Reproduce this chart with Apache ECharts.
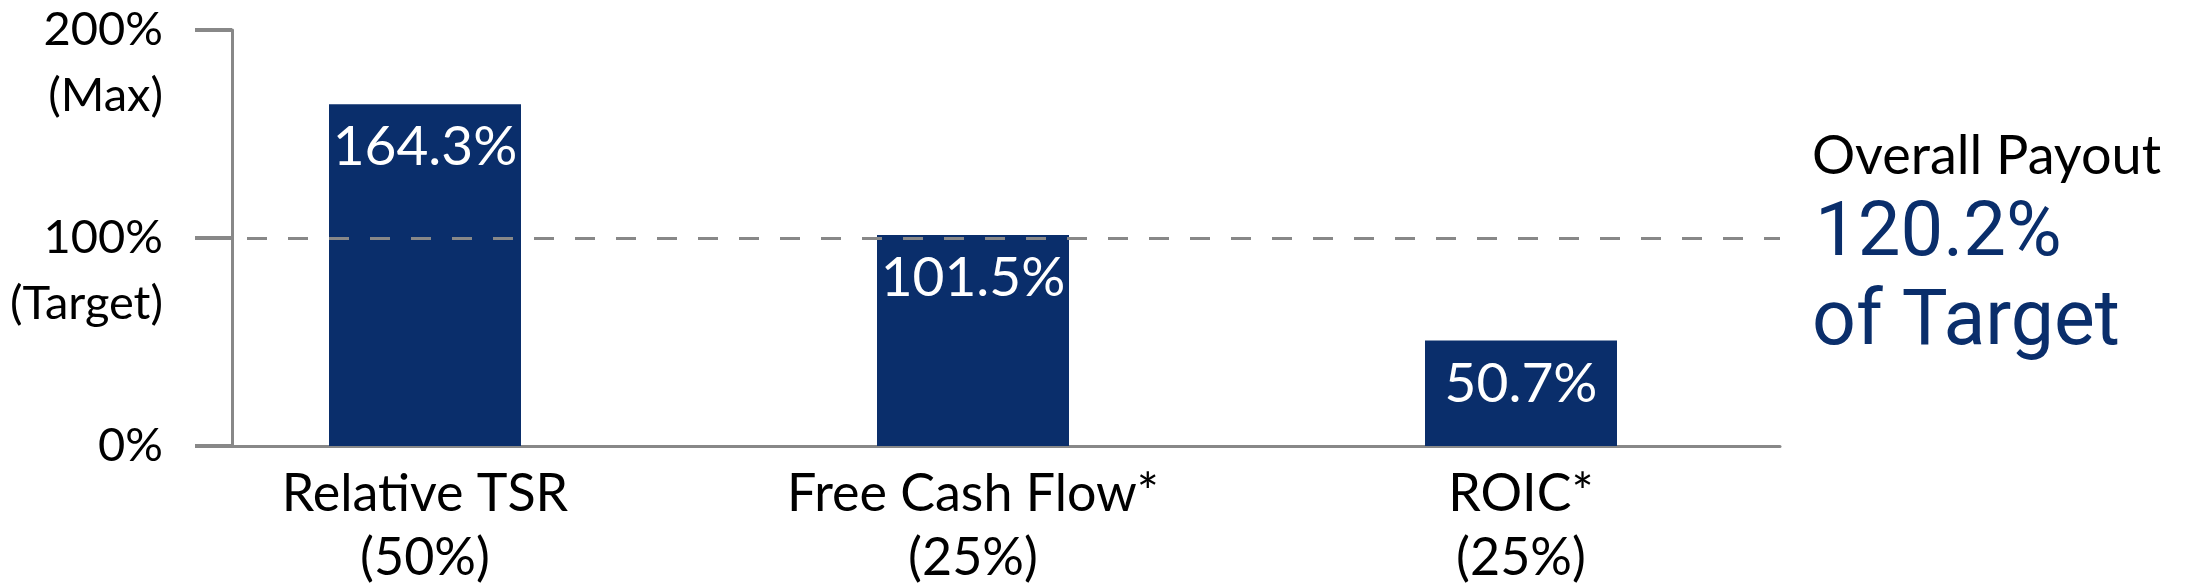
<!DOCTYPE html>
<html>
<head>
<meta charset="utf-8">
<title>Payout</title>
<script src="https://cdn.jsdelivr.net/npm/echarts/dist/echarts.min.js"></script>
<style>
  html, body { margin: 0; padding: 0; background: #fff; }
  #chart { width: 2201px; height: 588px; }
</style>
</head>
<body>
<div id="chart"></div>
<script>
const categories = ['Relative TSR\n(50%)', 'Free Cash Flow*\n(25%)', 'ROIC*\n(25%)'];
const payout = [164.3, 101.5, 50.7];
const tickValues = [0, 100, 200];
const tickLabels = ['0%', '100%', '200%'];
const tickNotes = ['', '(Target)', '(Max)'];
const targetLevel = 100;
const overallPayout = 120.2;

const navy = '#0a2e6b';
const gray = '#888888';
const font = 'Lato, "Open Sans", sans-serif';

let myChart = echarts.init(document.getElementById('chart'));

let option = {
  backgroundColor: '#fff',
  animation: false,
  grid: [
    // bars
    { left: 151, top: 30, width: 1644, height: 416, outerBoundsMode: 'none', containLabel: false },
    // frame (axes + target line)
    { left: 232, top: 30, width: 1548, height: 416, outerBoundsMode: 'none', containLabel: false }
  ],
  xAxis: [
    {
      type: 'category',
      gridIndex: 0,
      data: categories,
      axisLine: { show: false },
      axisTick: { show: false },
      axisLabel: {
        margin: 16,
        fontFamily: font,
        fontSize: 52,
        lineHeight: 64,
        color: '#000',
        interval: 0
      }
    },
    {
      type: 'value',
      gridIndex: 1,
      min: 0,
      max: 1,
      axisLine: { show: true, lineStyle: { color: gray, width: 3 } },
      axisTick: { show: false },
      axisLabel: { show: false },
      splitLine: { show: false }
    }
  ],
  yAxis: [
    {
      type: 'value',
      gridIndex: 0,
      min: 0,
      max: 200,
      show: false
    },
    {
      type: 'value',
      gridIndex: 1,
      min: 0,
      max: 200,
      interval: 100,
      axisLine: { show: true, lineStyle: { color: gray, width: 3 } },
      axisTick: { show: true, length: 37, lineStyle: { color: gray, width: 4 } },
      splitLine: { show: false },
      axisLabel: {
        margin: 69,
        showMinLabel: true,
        showMaxLabel: true,
        hideOverlap: false,
        fontFamily: font,
        fontSize: 47,
        lineHeight: 66,
        color: '#000',
        align: 'right',
        // blank first line keeps the percentage centred on its tick
        formatter: function (v) {
          let i = tickValues.indexOf(v);
          return ' \n' + tickLabels[i] + '\n' + (tickNotes[i] || ' ');
        }
      }
    }
  ],
  series: [
    {
      type: 'line',
      xAxisIndex: 1,
      yAxisIndex: 1,
      data: [],
      z: 1,
      markLine: {
        silent: true,
        symbol: 'none',
        label: { show: false },
        lineStyle: { color: gray, width: 3, type: [20, 21], dashOffset: 26 },
        data: [{ yAxis: targetLevel }]
      }
    },
    {
      type: 'bar',
      xAxisIndex: 0,
      yAxisIndex: 0,
      data: payout,
      barWidth: 192,
      z: 3,
      itemStyle: { color: navy },
      label: {
        show: true,
        position: 'insideTop',
        distance: 16,
        fontFamily: font,
        fontSize: 55,
        lineHeight: 55,
        color: '#fff',
        formatter: '{c}%'
      }
    }
  ],
  graphic: [
    {
      type: 'text',
      left: 1812,
      top: 130,
      style: { text: 'Overall Payout', font: '54px ' + font, fill: '#000' }
    },
    {
      type: 'text',
      left: 1815,
      top: 198,
      style: { text: overallPayout + '%', font: '76px Roboto, sans-serif', fill: navy }
    },
    {
      type: 'text',
      left: 1812,
      top: 286,
      style: { text: 'of Target', font: '77px Roboto, sans-serif', fill: navy }
    }
  ]
};

myChart.setOption(option);
</script>
</body>
</html>
